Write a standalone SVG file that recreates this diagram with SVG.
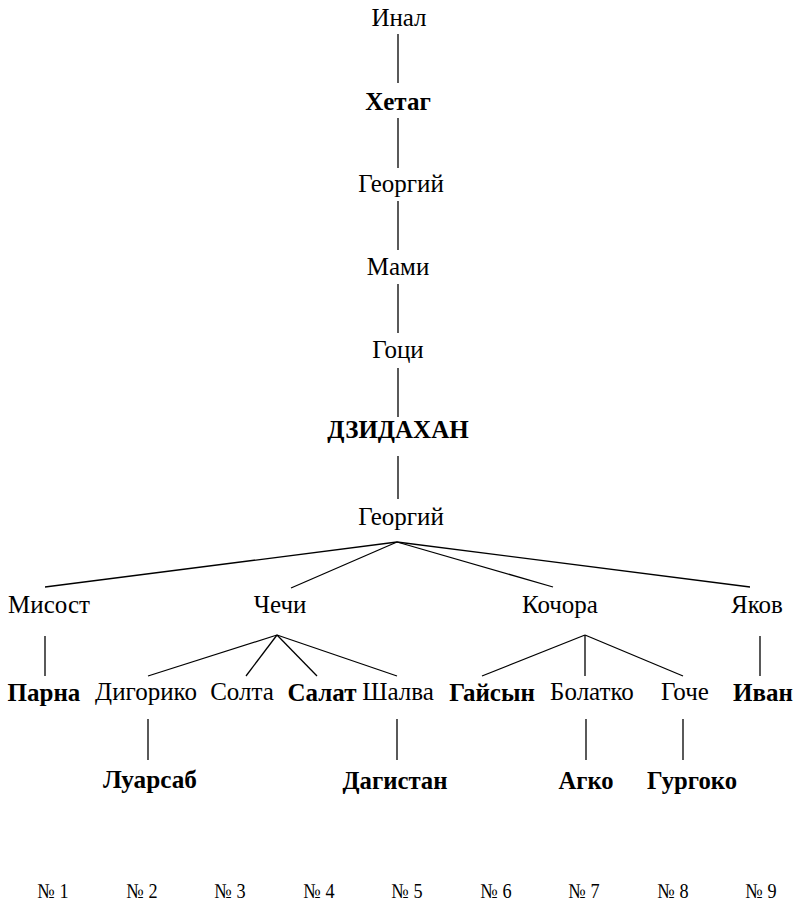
<svg xmlns="http://www.w3.org/2000/svg" width="801" height="904" viewBox="0 0 801 904">
<style>
text{font-family:"Liberation Serif","Times New Roman",serif;font-size:25px;fill:#000;text-anchor:middle}
.b{font-weight:bold}
.c{font-weight:bold;font-size:26px}
.n{font-size:21px}
#connectors line{stroke:#000;stroke-width:1.3}
</style>
<rect width="801" height="904" fill="#fff"/>
<g id="connectors">
<line x1="398" y1="34" x2="398" y2="83"/>
<line x1="398" y1="118" x2="398" y2="168"/>
<line x1="398" y1="201" x2="398" y2="250"/>
<line x1="398" y1="284" x2="398" y2="333"/>
<line x1="398" y1="368" x2="398" y2="417"/>
<line x1="398" y1="456" x2="398" y2="499"/>
<line x1="397" y1="542" x2="45" y2="587"/>
<line x1="397" y1="542" x2="291" y2="588"/>
<line x1="397" y1="542" x2="553" y2="587"/>
<line x1="397" y1="542" x2="750" y2="587"/>
<line x1="45" y1="636" x2="45" y2="676"/>
<line x1="277" y1="635" x2="148" y2="676"/>
<line x1="277" y1="635" x2="246" y2="676"/>
<line x1="277" y1="635" x2="317" y2="676"/>
<line x1="277" y1="635" x2="397" y2="676"/>
<line x1="585" y1="635" x2="482" y2="676"/>
<line x1="585" y1="635" x2="585" y2="676"/>
<line x1="585" y1="635" x2="683" y2="676"/>
<line x1="760" y1="636" x2="760" y2="676"/>
<line x1="148" y1="719" x2="148" y2="760"/>
<line x1="397" y1="719" x2="397" y2="760"/>
<line x1="586" y1="719" x2="586" y2="760"/>
<line x1="683" y1="719" x2="683" y2="760"/>
</g>
<g id="n-inal"><text x="399" y="26">Инал</text></g>
<g id="n-hetag"><text class="b" x="398" y="110">Хетаг</text></g>
<g id="n-georgy1"><text x="401" y="192">Георгий</text></g>
<g id="n-mami"><text x="398" y="275">Мами</text></g>
<g id="n-goci"><text x="398" y="358">Гоци</text></g>
<g id="n-dzidahan"><text class="b" x="398" y="438">ДЗИДАХАН</text></g>
<g id="n-georgy2"><text x="401" y="525">Георгий</text></g>
<g id="n-misost"><text x="49" y="613">Мисост</text></g>
<g id="n-chechi"><text x="280" y="613">Чечи</text></g>
<g id="n-kochora"><text x="560" y="613">Кочора</text></g>
<g id="n-yakov"><text x="757" y="613">Яков</text></g>
<g id="n-parna"><text class="b" x="44" y="701">Парна</text></g>
<g id="n-digoriko"><text x="146" y="700">Дигорико</text></g>
<g id="n-solta"><text x="242" y="700">Солта</text></g>
<g id="n-salat"><text class="b" x="322" y="701">Салат</text></g>
<g id="n-shalva"><text x="398" y="700">Шалва</text></g>
<g id="n-gaisyn"><text class="b" x="492" y="701">Гайсын</text></g>
<g id="n-bolatko"><text x="592" y="700">Болатко</text></g>
<g id="n-goche"><text x="685" y="700">Гоче</text></g>
<g id="n-ivan"><text class="b" x="763" y="701">Иван</text></g>
<g id="n-luarsab"><text class="c" x="150" y="788" textLength="94" lengthAdjust="spacingAndGlyphs">Луарсаб</text></g>
<g id="n-dagistan"><text class="c" x="395" y="789" textLength="105" lengthAdjust="spacingAndGlyphs">Дагистан</text></g>
<g id="n-agko"><text class="c" x="586" y="789" textLength="55" lengthAdjust="spacingAndGlyphs">Агко</text></g>
<g id="n-gurgoko"><text class="c" x="692" y="789" textLength="90" lengthAdjust="spacingAndGlyphs">Гургоко</text></g>
<g id="numbers">
<text class="n" x="53" y="898" textLength="31" lengthAdjust="spacingAndGlyphs">№ 1</text>
<text class="n" x="142" y="898" textLength="31" lengthAdjust="spacingAndGlyphs">№ 2</text>
<text class="n" x="230" y="898" textLength="31" lengthAdjust="spacingAndGlyphs">№ 3</text>
<text class="n" x="319" y="898" textLength="31" lengthAdjust="spacingAndGlyphs">№ 4</text>
<text class="n" x="407" y="898" textLength="31" lengthAdjust="spacingAndGlyphs">№ 5</text>
<text class="n" x="496" y="898" textLength="31" lengthAdjust="spacingAndGlyphs">№ 6</text>
<text class="n" x="584" y="898" textLength="31" lengthAdjust="spacingAndGlyphs">№ 7</text>
<text class="n" x="673" y="898" textLength="31" lengthAdjust="spacingAndGlyphs">№ 8</text>
<text class="n" x="761" y="898" textLength="31" lengthAdjust="spacingAndGlyphs">№ 9</text>
</g>
</svg>
